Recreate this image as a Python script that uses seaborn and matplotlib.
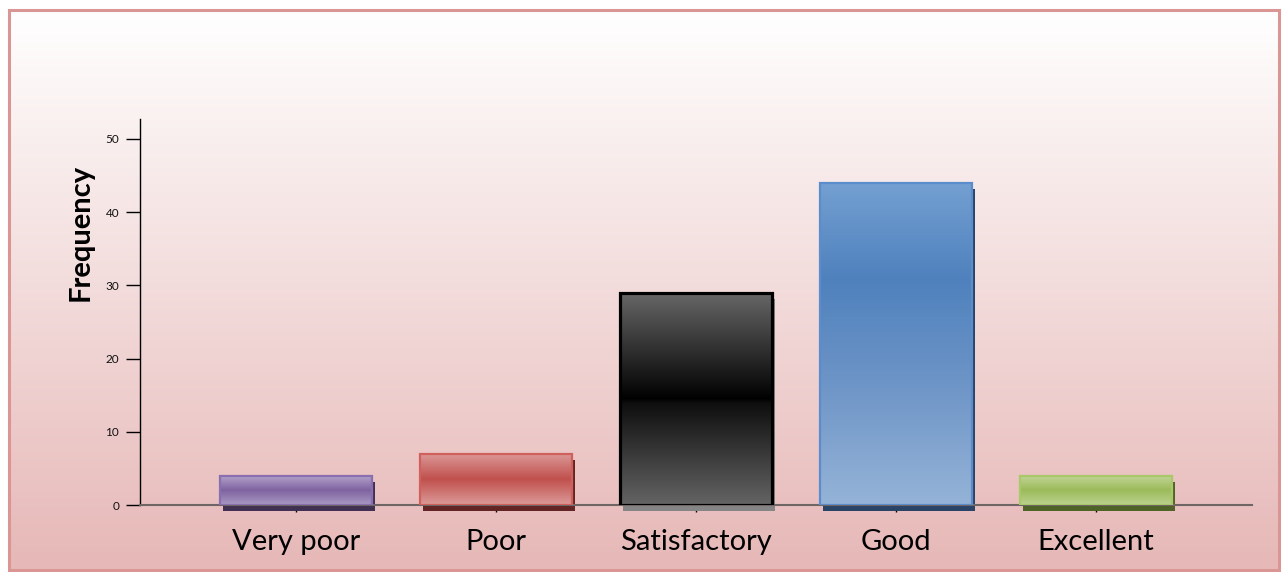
import numpy as np
import matplotlib
matplotlib.use("Agg")
import matplotlib.pyplot as plt
import matplotlib.transforms as mtransforms
from matplotlib.colors import to_rgb
from matplotlib.patches import Rectangle
import seaborn as sns

# data
categories = ["Very poor", "Poor", "Satisfactory", "Good", "Excellent"]
frequency = [4, 7, 29, 44, 4]
y_ticks = [0, 10, 20, 30, 40, 50]

# styling per bar
base_colors = ["#8064a2", "#c0504d", "#1a1a1a", "#4f81bd", "#9bbb59"]
edge_colors = ["#8a6fb0", "#d0605c", "#000000", "#5b8ccc", "#a9c86a"]
edge_widths = [1.6, 1.6, 2.3, 1.6, 1.6]
shadow_colors = ["#403152", "#632523", "#858585", "#2a4468", "#4f6228"]
gradients = [
    [(0, "#b5a5cc"), (0.5, "#7f63a0"), (1, "#a999c4")],
    [(0, "#dc9a99"), (0.5, "#c0504d"), (1, "#dc9a99")],
    [(0, "#676767"), (0.48, "#050505"), (0.5, "#000000"), (0.52, "#0e0e0e"), (1, "#646464")],
    [(0, "#74a0d2"), (0.3, "#4f81bd"), (0.6, "#6b93c6"), (1, "#95b3d7")],
    [(0, "#c3d69b"), (0.5, "#9bbb59"), (1, "#bcd290")],
]


def grad_array(stops, n=256):
    pos = np.array([s[0] for s in stops])
    cols = np.array([to_rgb(s[1]) for s in stops])
    t = np.linspace(0, 1, n)
    arr = np.stack([np.interp(t, pos, cols[:, k]) for k in range(3)], axis=1)
    return arr[:, None, :]


sns.set_style("white")
plt.rcParams["font.family"] = ["Lato", "DejaVu Sans"]

fig = plt.figure(figsize=(12.84, 5.72), dpi=100)

# background gradient + frame
bg = fig.add_axes([0, 0, 1, 1], zorder=-5)
bg.axis("off")
bg.set_xlim(0, 1284)
bg.set_ylim(572, 0)
bg.imshow(grad_array([(0, "#ffffff"), (1, "#e6b8b7")]), extent=[9, 1279, 570, 10],
          aspect="auto", zorder=0)
bg.add_patch(Rectangle((9, 10), 1270, 560, fill=False, edgecolor="#d99694", lw=2.2, zorder=2))

ax = fig.add_axes([140 / 1284, 1 - 505 / 572, 1112 / 1284, 386 / 572])
ax.patch.set_alpha(0)

sns.barplot(x=categories, y=frequency, hue=categories, palette=base_colors,
            width=0.76, legend=False, ax=ax, zorder=3)

shadow_tr = mtransforms.offset_copy(ax.transData, fig=fig, x=2.5, y=-6, units="dots")
for i, bar in enumerate(ax.patches):
    x0, y0 = bar.get_x(), bar.get_y()
    w, h = bar.get_width(), bar.get_height()
    bar.set_edgecolor("none")
    ax.add_patch(Rectangle((x0, y0), w, h, facecolor=shadow_colors[i], edgecolor="none",
                           transform=shadow_tr, zorder=2, clip_on=False))
    ax.imshow(grad_array(gradients[i]), extent=[x0, x0 + w, y0, y0 + h], aspect="auto",
              origin="upper", clip_path=bar, zorder=4)
    ax.add_patch(Rectangle((x0, y0), w, h, fill=False, edgecolor=edge_colors[i],
                           lw=edge_widths[i], zorder=5))

ax.set_xlim(-0.78, 4.78)
ax.set_ylim(0, 52.7)
ax.set_yticks(y_ticks)
ax.set_yticklabels([str(v) for v in y_ticks], fontsize=8.5, color="#111111")
ax.tick_params(axis="y", direction="out", length=10, width=1, color="black", pad=5, left=True)
ax.tick_params(axis="x", direction="out", length=5, width=1, color="black", pad=12,
               labelsize=21, labelcolor="black", bottom=True)

for s in ["top", "right"]:
    ax.spines[s].set_visible(False)
ax.spines["left"].set_color("black")
ax.spines["left"].set_linewidth(1)
ax.spines["bottom"].set_color("#706565")
ax.spines["bottom"].set_linewidth(1.5)
ax.spines["bottom"].set_zorder(3.5)

ax.set_xlabel("")
ax.set_ylabel("Frequency", fontsize=21, fontweight="bold", color="black")
ax.yaxis.set_label_coords(-0.042, 0.705)

fig.savefig("out.png", dpi=100)
